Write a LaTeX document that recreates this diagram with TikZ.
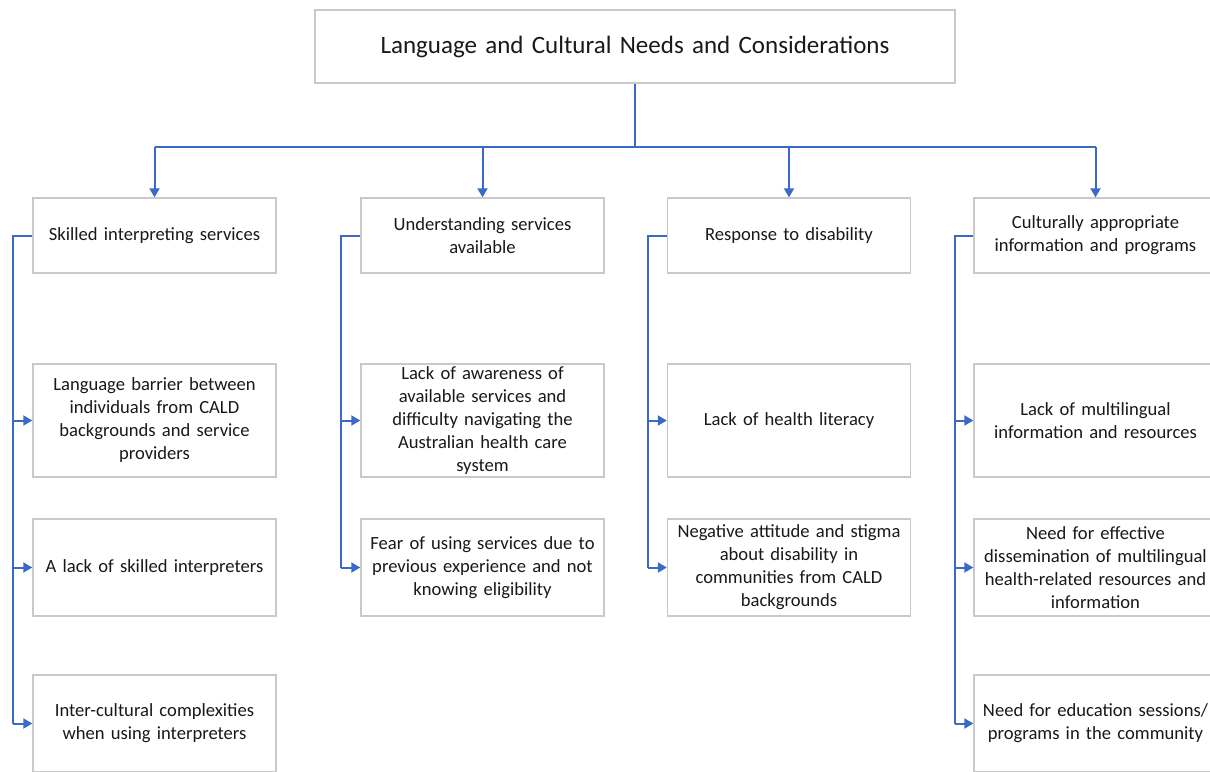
\documentclass[tikz,border=0pt]{standalone}
\usepackage{fontspec}
\setmainfont{Carlito}
\usetikzlibrary{arrows.meta}
\definecolor{boxgray}{HTML}{C9C9C9}
\definecolor{linkblue}{HTML}{3A69C8}
\tikzset{
  box/.style={draw=boxgray, line width=1.4pt, fill=white, align=center, inner xsep=4pt, inner ysep=0pt,
    font=\fontsize{18.6}{23}\selectfont, text=black!90},
  lvl2/.style={box, minimum width=243pt, text width=235pt, minimum height=75pt},
  lvl3/.style={box, minimum width=243pt, text width=235pt},
  conn/.style={draw=linkblue, line width=2pt},
  arr/.style={conn, -{Triangle[length=9pt,width=10pt]}}
}
\begin{document}
\begin{tikzpicture}[x=1pt,y=-1pt]
\useasboundingbox (0,0) rectangle (1210,771);
\clip (0,0) rectangle (1210,771);
\fill[white] (0,0) rectangle (1210,771);

% title
\node[box, minimum width=640pt, minimum height=73pt, text width=630pt, font=\fontsize{25}{30}\selectfont] (top) at (635,46.5) {Language and Cultural Needs and Considerations};

% level 2
\node[lvl2] (a) at (154.5,235.5) {Skilled interpreting services};
\node[lvl2] (b) at (482.5,235.5) {Understanding services\\available};
\node[lvl2] (c) at (789,235.5) {Response to disability};
\node[lvl2] (d) at (1095.5,235.5) {Culturally appropriate\\information and programs};

% level 3
\node[lvl3, minimum height=113pt] (a1) at (154.5,420.5) {Language barrier between\\individuals from CALD\\backgrounds and service\\providers};
\node[lvl3, minimum height=97pt] (a2) at (154.5,567.5) {A lack of skilled interpreters};
\node[lvl3, minimum height=97pt] (a3) at (154.5,723.5) {Inter-cultural complexities\\when using interpreters};

\node[lvl3, minimum height=113pt] (b1) at (482.5,420.5) {Lack of awareness of\\available services and\\difficulty navigating the\\Australian health care\\system};
\node[lvl3, minimum height=97pt] (b2) at (482.5,567.5) {Fear of using services due to\\previous experience and not\\knowing eligibility};

\node[lvl3, minimum height=113pt] (c1) at (789,420.5) {Lack of health literacy};
\node[lvl3, minimum height=97pt] (c2) at (789,567.5) {Negative attitude and stigma\\about disability in\\communities from CALD\\backgrounds};

\node[lvl3, minimum height=113pt] (d1) at (1095.5,420.5) {Lack of multilingual\\information and resources};
\node[lvl3, minimum height=97pt] (d2) at (1095.5,567.5) {Need for effective\\dissemination of multilingual\\health-related resources and\\information};
\node[lvl3, minimum height=97pt] (d3) at (1095.5,723.5) {Need for education sessions/\\programs in the community};

% top bus
\coordinate (bus) at (635,147);
\draw[conn] (top.south) -- (bus);
\draw[conn] (a.north |- bus) -- (d.north |- bus);
\foreach \n in {a,b,c,d} { \draw[arr] (\n.north |- bus) -- (\n.north); }

% side rails
\coordinate (ra) at (13,235.5);
\coordinate (rb) at (341,235.5);
\coordinate (rc) at (648,235.5);
\coordinate (rd) at (955,235.5);

\draw[conn] (a.west) -- (ra) -- (ra |- a3.west);
\foreach \n in {a1,a2,a3} { \draw[arr] (ra |- \n.west) -- (\n.west); }

\draw[conn] (b.west) -- (rb) -- (rb |- b2.west);
\foreach \n in {b1,b2} { \draw[arr] (rb |- \n.west) -- (\n.west); }

\draw[conn] (c.west) -- (rc) -- (rc |- c2.west);
\foreach \n in {c1,c2} { \draw[arr] (rc |- \n.west) -- (\n.west); }

\draw[conn] (d.west) -- (rd) -- (rd |- d3.west);
\foreach \n in {d1,d2,d3} { \draw[arr] (rd |- \n.west) -- (\n.west); }
\end{tikzpicture}
\end{document}
